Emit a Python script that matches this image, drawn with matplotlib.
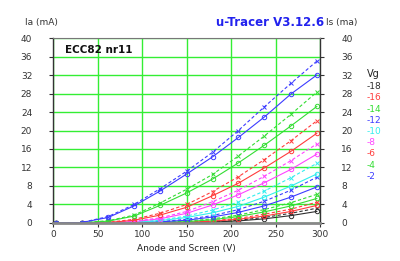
import matplotlib
matplotlib.use("Agg")
import matplotlib.pyplot as plt

# anode / screen voltage steps (V)
va = [3, 32, 62, 91, 120, 150, 179, 208, 237, 267, 296]

vg_labels = ["-18", "-16", "-14", "-12", "-10", "-8", "-6", "-4", "-2"]
colors = ["#303030", "#ff3c3c", "#33dd33", "#3c3cff", "#33eeee",
          "#ff44ff", "#ff3c3c", "#33dd33", "#3c3cff"]

# anode current (solid, circles), mA
ia = {
    "-18": [0, 0, 0, 0, 0, 0.05, 0.2, 0.45, 0.9, 1.6, 2.5],
    "-16": [0, 0, 0, 0, 0.05, 0.15, 0.4, 0.8, 1.5, 2.5, 3.8],
    "-14": [0, 0, 0, 0, 0.1, 0.3, 0.7, 1.4, 2.4, 3.7, 5.3],
    "-12": [0, 0, 0, 0.05, 0.25, 0.6, 1.3, 2.3, 3.7, 5.6, 7.8],
    "-10": [0, 0, 0, 0.15, 0.5, 1.2, 2.2, 3.6, 5.6, 8.0, 10.6],
    "-8": [0, 0, 0.05, 0.3, 0.9, 2.1, 3.9, 6.1, 8.7, 11.6, 14.9],
    "-6": [0, 0, 0.1, 0.6, 1.7, 3.4, 5.9, 8.6, 11.9, 15.5, 19.4],
    "-4": [0, 0.05, 0.4, 1.5, 3.8, 6.5, 9.5, 13.0, 16.8, 21.0, 25.2],
    "-2": [0, 0.1, 1.2, 3.7, 6.9, 10.6, 14.3, 18.5, 22.9, 27.9, 32.0],
}
# second current (dashed, crosses), mA
is_ = {
    "-18": [0, 0, 0, 0, 0, 0.1, 0.25, 0.6, 1.2, 2.1, 3.2],
    "-16": [0, 0, 0, 0, 0.05, 0.2, 0.5, 1.0, 1.9, 3.0, 4.5],
    "-14": [0, 0, 0, 0, 0.15, 0.4, 0.9, 1.7, 2.9, 4.4, 6.2],
    "-12": [0, 0, 0, 0.1, 0.3, 0.8, 1.6, 2.9, 4.7, 7.1, 9.9],
    "-10": [0, 0, 0, 0.2, 0.6, 1.5, 2.8, 4.5, 6.9, 9.8, 12.9],
    "-8": [0, 0, 0.1, 0.4, 1.1, 2.5, 4.6, 7.1, 10.1, 13.5, 17.1],
    "-6": [0, 0, 0.15, 0.8, 2.1, 4.0, 6.8, 10.0, 13.7, 17.8, 22.1],
    "-4": [0, 0.05, 0.5, 1.7, 4.3, 7.3, 10.5, 14.5, 18.8, 23.5, 28.3],
    "-2": [0, 0.1, 1.4, 4.0, 7.4, 11.2, 15.3, 20.0, 25.1, 30.2, 35.0],
}

fig = plt.figure(figsize=(4, 2.61), dpi=100)
ax = fig.add_axes([0.1325, 0.1456, 0.6685, 0.7088])

for lab, c in zip(vg_labels, colors):
    ax.plot(va, is_[lab], color=c, lw=0.8, ls=(0, (3, 2)), marker="x",
            ms=3.2, mew=0.7)
    ax.plot(va, ia[lab], color=c, lw=0.8, marker="o", ms=3.2, mfc="none",
            mew=0.7)

ax.set_xlim(0, 300)
ax.set_ylim(0, 40)
ax.set_xticks(range(0, 301, 50))
ax.set_yticks(range(0, 41, 4))
ax.grid(True, color="#33ee33", lw=1.0)
ax.set_axisbelow(True)
ax.tick_params(labelsize=6.5, length=3, width=0.8, colors="#333333",
               right=True, labelright=True, pad=2)
ax.tick_params(axis="y", pad=12)
for s in ["left", "right"]:
    ax.spines[s].set_color("#333333")
    ax.spines[s].set_linewidth(1.0)
ax.spines["top"].set_color("#777777")
ax.spines["bottom"].set_color("#888888")
ax.spines["bottom"].set_linewidth(2.0)

ax.set_xlabel("Anode and Screen (V)", fontsize=6.5, color="#222222",
              labelpad=4)
fig.text(25 / 400, 1 - 22 / 261, "Ia (mA)", fontsize=6.5, color="#333333",
         va="center")
fig.text(326 / 400, 1 - 22 / 261, "Is (ma)", fontsize=6.5, color="#333333",
         va="center")
fig.text(270 / 400, 1 - 22 / 261, "u-Tracer V3.12.6", fontsize=8.5,
         color="#2222ee", fontweight="bold", ha="center", va="center")
ax.text(0.045, 0.935, "ECC82 nr11", transform=ax.transAxes, fontsize=7.5,
        fontweight="bold", va="center", color="#111111")

fig.text(367 / 400, 1 - 74 / 261, "Vg", fontsize=7, color="#222222",
         va="center")
for i, (lab, c) in enumerate(zip(vg_labels, colors)):
    fig.text(367 / 400, 1 - (86.7 + i * 11.2) / 261, lab, fontsize=6.5,
             color=c, va="center")

fig.savefig("out.png", dpi=100)
